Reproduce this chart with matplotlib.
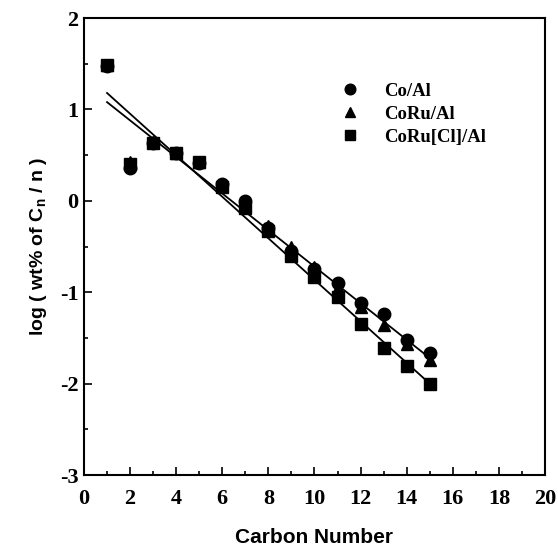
import numpy as np
import matplotlib.pyplot as plt

# carbon number
n = [1, 2, 3, 4, 5, 6, 7, 8, 9, 10, 11, 12, 13, 14, 15]

# log(wt% of Cn / n)
co_al = [1.48, 0.36, 0.63, 0.52, 0.41, 0.18, 0.00, -0.30, -0.55, -0.75, -0.90, -1.12, -1.24, -1.52, -1.67]
coru_al = [1.49, 0.42, 0.64, 0.52, 0.42, 0.18, -0.05, -0.27, -0.50, -0.72, -0.95, -1.16, -1.36, -1.57, -1.74]
coru_cl_al = [1.49, 0.40, 0.63, 0.52, 0.42, 0.15, -0.08, -0.33, -0.60, -0.83, -1.05, -1.35, -1.61, -1.81, -2.00]

# fitted lines (end points)
fit_n = [1, 15]
fit_upper = [1.08, -1.72]
fit_lower = [1.18, -2.00]

plt.rcParams['mathtext.default'] = 'regular'
plt.rcParams['axes.unicode_minus'] = False

fig = plt.figure(figsize=(5.58, 5.47), dpi=100)
ax = fig.add_axes([0.1505, 0.1316, 0.8262, 0.8354])

ax.plot(fit_n, fit_upper, color='black', lw=1.3)
ax.plot(fit_n, fit_lower, color='black', lw=1.3)

ax.plot(n, co_al, 'o', color='black', ms=9, label='Co/Al')
ax.plot(n, coru_al, '^', color='black', ms=9, label='CoRu/Al')
ax.plot(n, coru_cl_al, 's', color='black', ms=8.5, label='CoRu[Cl]/Al')

ax.set_xlim(0, 20)
ax.set_ylim(-3, 2)
ax.set_xticks(np.arange(0, 21, 2))
ax.set_xticks(np.arange(0, 21, 1), minor=True)
ax.set_yticks(np.arange(-3, 2.1, 1))
ax.set_yticks(np.arange(-3, 2.1, 0.5), minor=True)
ax.tick_params(which='both', direction='in', top=False, right=False)
ax.tick_params(which='major', length=6, width=1.2)
ax.tick_params(axis='x', which='major', pad=10)
ax.tick_params(axis='y', which='major', pad=4)
ax.tick_params(which='minor', length=3, width=1.2)
for lab in ax.get_xticklabels() + ax.get_yticklabels():
    lab.set_family('Liberation Serif')
    lab.set_fontweight('bold')
    lab.set_fontsize(16)
for s in ax.spines.values():
    s.set_linewidth(1.5)

ax.set_xlabel('Carbon Number', family='Liberation Sans', fontweight='bold', fontsize=15, labelpad=14)
ax.set_ylabel('log ( wt% of C$_n$ / n )', family='Liberation Sans', fontweight='bold', fontsize=14, labelpad=8)

ax.legend(loc='upper left', bbox_to_anchor=(0.50, 0.895), frameon=False,
          prop={'family': 'Liberation Serif', 'weight': 'bold', 'size': 13.5},
          handletextpad=0.8, labelspacing=0.3, markerscale=0.85)

fig.savefig('out.png', dpi=100)
